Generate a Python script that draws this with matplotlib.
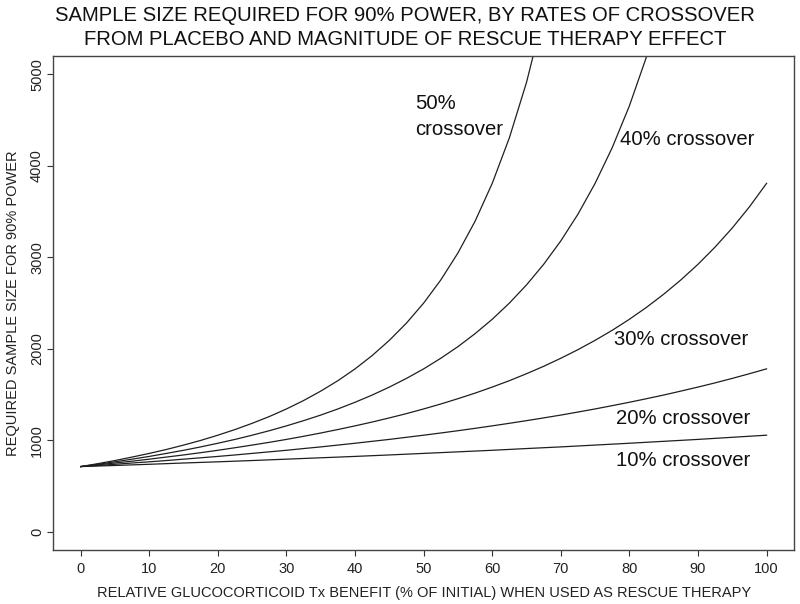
import matplotlib
matplotlib.use("Agg")
import matplotlib.pyplot as plt

plt.rcParams['font.family'] = ['Liberation Sans', 'DejaVu Sans']

# Relative rescue-therapy benefit (% of initial)
x10 = [0, 5, 10, 15, 20, 25, 30, 35, 40, 45, 50, 55, 60, 65, 70, 75, 80, 85, 90, 95, 100]
n10 = [712, 724, 737, 751, 764, 778, 793, 808, 823, 839, 856, 873, 890, 909, 927, 947, 967, 988, 1009, 1032, 1055]

x_fine = [0, 2.5, 5, 7.5, 10, 12.5, 15, 17.5, 20, 22.5, 25, 27.5, 30, 32.5, 35, 37.5, 40, 42.5, 45, 47.5,
          50, 52.5, 55, 57.5, 60, 62.5, 65, 67.5, 70, 72.5, 75, 77.5, 80, 82.5, 85, 87.5, 90, 92.5, 95, 97.5, 100]
n20 = [712, 724, 737, 751, 764, 778, 793, 808, 823, 839, 856, 873, 890, 909, 927, 947, 967, 988, 1009, 1032,
       1055, 1079, 1104, 1130, 1157, 1185, 1214, 1244, 1275, 1308, 1342, 1378, 1415, 1454, 1494, 1537, 1581, 1627, 1676, 1727, 1780]
n30 = [712, 731, 751, 771, 793, 816, 839, 864, 890, 918, 947, 977, 1009, 1043, 1079, 1117, 1157, 1199, 1244, 1291,
       1342, 1396, 1454, 1515, 1581, 1651, 1727, 1808, 1896, 1990, 2092, 2202, 2322, 2453, 2596, 2752, 2923, 3112, 3320, 3551, 3808]

x40 = [0, 2.5, 5, 7.5, 10, 12.5, 15, 17.5, 20, 22.5, 25, 27.5, 30, 32.5, 35, 37.5, 40, 42.5, 45, 47.5,
       50, 52.5, 55, 57.5, 60, 62.5, 65, 67.5, 70, 72.5, 75, 77.5, 80, 82.5, 85]
n40 = [712, 737, 764, 793, 823, 856, 890, 927, 967, 1009, 1055, 1104, 1157, 1214, 1275, 1342, 1415, 1494, 1581, 1676,
       1780, 1896, 2023, 2165, 2322, 2499, 2698, 2923, 3179, 3471, 3808, 4199, 4655, 5193, 5833]

x50 = [0, 2.5, 5, 7.5, 10, 12.5, 15, 17.5, 20, 22.5, 25, 27.5, 30, 32.5, 35, 37.5, 40, 42.5, 45, 47.5,
       50, 52.5, 55, 57.5, 60, 62.5, 65, 67.5]
n50 = [712, 744, 778, 816, 856, 899, 947, 998, 1055, 1117, 1185, 1259, 1342, 1434, 1537, 1651, 1780, 1926, 2092, 2281,
       2499, 2752, 3047, 3394, 3808, 4306, 4912, 5662]

x_ticks = [0, 10, 20, 30, 40, 50, 60, 70, 80, 90, 100]
y_ticks = [0, 1000, 2000, 3000, 4000, 5000]

title_lines = ["SAMPLE SIZE REQUIRED FOR 90% POWER, BY RATES OF CROSSOVER",
               "FROM PLACEBO AND MAGNITUDE OF RESCUE THERAPY EFFECT"]
xlabel = "RELATIVE GLUCOCORTICOID Tx BENEFIT (% OF INITIAL) WHEN USED AS RESCUE THERAPY"
ylabel = "REQUIRED SAMPLE SIZE FOR 90% POWER"

W, H = 800, 604
fig = plt.figure(figsize=(W / 100, H / 100), dpi=100)
left, right, top, bottom = 53.3, 794, 56, 550
ax = fig.add_axes([left / W, 1 - bottom / H, (right - left) / W, (bottom - top) / H])

lc = '#1f1f1f'
for xs, ys in [(x10, n10), (x_fine, n20), (x_fine, n30), (x40, n40), (x50, n50)]:
    ax.plot(xs, ys, color=lc, lw=0.9, solid_joinstyle='round')

ax.set_xlim(-4, 104)
ax.set_ylim(-200, 5200)
ax.set_xticks(x_ticks)
ax.set_yticks(y_ticks)
ax.set_xticklabels([str(v) for v in x_ticks])
ax.set_yticklabels([str(v) for v in y_ticks], rotation=90, va='center')
ax.tick_params(direction='out', length=4.2, width=0.8, color='#333333',
               labelsize=10.5, labelcolor='#222222')
ax.tick_params(axis='x', pad=4.5)
ax.tick_params(axis='y', pad=2.5)
for s in ax.spines.values():
    s.set_color('#444444')
    s.set_linewidth(1.0)

tc = '#111111'
fs_lab = 14.6
ax.text(48.8, 4617, "50%", fontsize=fs_lab, color=tc, va='baseline', ha='left')
ax.text(48.8, 4333, "crossover", fontsize=fs_lab, color=tc, va='baseline', ha='left')
ax.text(78.7, 4223, "40% crossover", fontsize=fs_lab, color=tc, va='baseline', ha='left')
ax.text(77.7, 2044, "30% crossover", fontsize=fs_lab, color=tc, va='baseline', ha='left')
ax.text(78.0, 1176, "20% crossover", fontsize=fs_lab, color=tc, va='baseline', ha='left')
ax.text(78.1, 723, "10% crossover", fontsize=fs_lab, color=tc, va='baseline', ha='left')

fig.text(405 / W, 1 - 20.7 / H, title_lines[0], fontsize=14.6, color=tc, ha='center', va='baseline')
fig.text(405 / W, 1 - 45 / H, title_lines[1], fontsize=14.6, color=tc, ha='center', va='baseline')
fig.text(423.7 / W, 1 - 596.7 / H, xlabel, fontsize=10.55, color='#222222', ha='center', va='baseline')
fig.text(13 / W, 1 - 303 / H, ylabel, fontsize=10.5, color='#222222', ha='center', va='center', rotation=90)

fig.savefig("out.png", dpi=100)
